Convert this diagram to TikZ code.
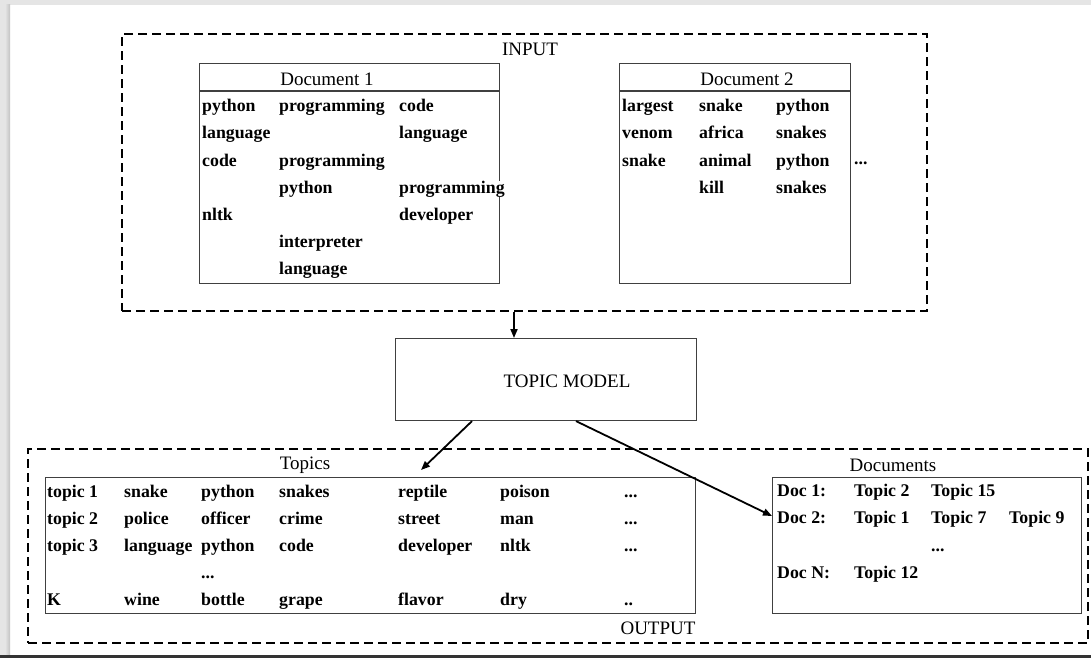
\documentclass[tikz,border=0pt]{standalone}
\usepackage{fontspec}
\setmainfont{Liberation Serif}
\usetikzlibrary{arrows.meta,calc}
\newcommand{\mydots}{...}
\newcommand{\mytwodots}{..}
\begin{document}
\begin{tikzpicture}[x=1pt,y=-1pt,
  word/.style={anchor=west,inner sep=0pt,font=\fontsize{17.8}{20}\selectfont\bfseries,text height=12.5pt,text depth=4pt},
  lbl/.style={inner sep=0pt,font=\fontsize{19}{22}\selectfont},
  solidbox/.style={draw=black!75,line width=1.1pt,inner sep=0pt,anchor=north west},
  dashbox/.style={draw=black,line width=2.2pt,dash pattern=on 9pt off 5pt,inner sep=0pt,anchor=north west},
  conn/.style={line width=1.8pt,-{Triangle[length=9pt,width=7pt]}}]
\useasboundingbox (0,0) rectangle (1091,658);
% frame
\fill[white] (0,0) rectangle (1091,658);
\fill[black!10] (0,0) rectangle (1091,5);
\fill[black!10] (0,0) rectangle (10,658);
\shade[left color=black!10,right color=black!24] (5,5) rectangle (10,655);
\fill[black!80] (0,655) rectangle (1091,658);
% INPUT
\node[dashbox,minimum width=805pt,minimum height=277pt] (input) at (121,33) {};
\node[lbl] (inlbl) at (530,49) {INPUT};
\node[solidbox,minimum width=300pt,minimum height=220pt] (doc1) at (199,63) {};
\draw[draw=black!75,line width=1.1pt] (doc1.west |- 0,91) -- (doc1.east |- 0,91);
\node[lbl] (doc1h) at (327,79) {Document 1};
\node[solidbox,minimum width=231pt,minimum height=220pt] (doc2) at (619,63) {};
\draw[draw=black!75,line width=1.1pt] (doc2.west |- 0,91) -- (doc2.east |- 0,91);
\node[lbl] (doc2h) at (747,79) {Document 2};
\foreach \x/\y/\t [count=\i] in {202/107/python,279/107/programming,399/107/code,
  202/134/language,399/134/language,202/162/code,279/162/programming,
  279/189/python,202/216/nltk,399/216/developer,279/243/interpreter,279/270/language}
  \node[word,name=da\i] at (\x,\y) {\t};
\node[word,fill=white] (daover) at (399,189) {programming};
\foreach \x/\y/\t [count=\i] in {622/107/largest,699/107/snake,776/107/python,
  622/134/venom,699/134/africa,776/134/snakes,622/162/snake,699/162/animal,776/162/python,
  699/189/kill,776/189/snakes}
  \node[word,name=db\i] at (\x,\y) {\t};
\node[word] (dbdots) at (854,160) {\mydots};
% TOPIC MODEL
\node[solidbox,minimum width=301pt,minimum height=82pt] (tm) at (395,338) {};
\node[lbl] (tmlbl) at (567,381) {TOPIC MODEL};
% OUTPUT
\node[dashbox,minimum width=1060pt,minimum height=194pt] (output) at (27,448) {};
\node[lbl] (outlbl) at (658,628) {OUTPUT};
\node[lbl] (toplbl) at (305,465) {Topics};
\node[solidbox,minimum width=650pt,minimum height=136pt] (topics) at (45,477) {};
\foreach \x/\y/\t [count=\i] in {47/493/topic 1,124/493/snake,201/493/python,279/493/snakes,398/493/reptile,500/493/poison,624/493/\mydots,
  47/520/topic 2,124/520/police,201/520/officer,279/520/crime,398/520/street,500/520/man,624/520/\mydots,
  47/547/topic 3,124/547/language,201/547/python,279/547/code,398/547/developer,500/547/nltk,624/547/\mydots,
  201/574/\mydots,
  47/601/K,124/601/wine,201/601/bottle,279/601/grape,398/601/flavor,500/601/dry,624/601/\mytwodots}
  \node[word,name=tp\i] at (\x,\y) {\t};
\node[lbl] (docslbl) at (893,465) {Documents};
\node[solidbox,minimum width=309pt,minimum height=136pt] (docs) at (772,477) {};
\foreach \x/\y/\t [count=\i] in {777/492/Doc 1:,854/492/Topic 2,931/492/Topic 15,
  777/519/Doc 2:,854/519/Topic 1,931/519/Topic 7,1009/519/Topic 9,
  931/547/\mydots,777/574/Doc N:,854/574/Topic 12}
  \node[word,name=dc\i] at (\x,\y) {\t};
% connectors
\coordinate (a0) at (514,0);
\coordinate (a1) at (472,0);
\coordinate (a2) at (576,0);
\coordinate (t1) at (421,470);
\coordinate (t2) at (0,516);
\draw[conn] (input.south -| a0) -- (tm.north -| a0);
\draw[conn] (tm.south -| a1) -- (t1);
\draw[conn] (tm.south -| a2) -- (docs.west |- t2);
\end{tikzpicture}
\end{document}
